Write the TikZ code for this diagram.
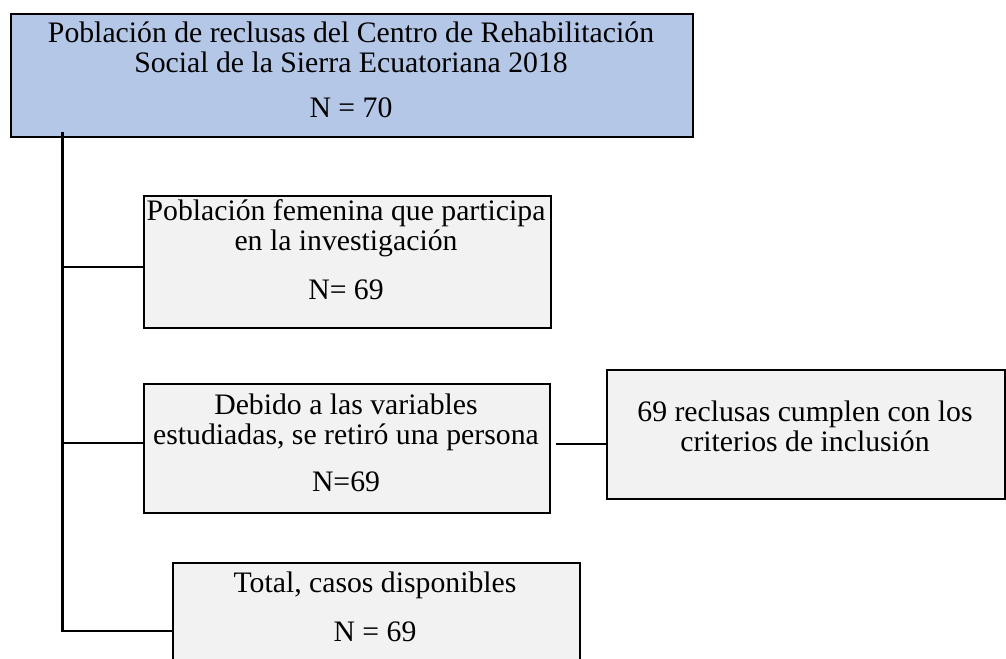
\documentclass[tikz,border=0pt]{standalone}
\usepackage{fontspec}
\setmainfont{Liberation Serif}
\usepackage{tikz}
\usetikzlibrary{calc}
\definecolor{azulcaja}{RGB}{180,199,231}
\definecolor{griscaja}{RGB}{242,242,242}
\tikzset{
  caja/.style={draw=black, line width=1.5pt, fill=griscaja, anchor=north west, inner sep=0pt},
  texto/.style={inner sep=0.75pt, align=center, font=\fontsize{22.3}{22.5}\selectfont},
  rama/.style={line width=1.5pt},
}
\begin{document}
\begin{tikzpicture}[x=0.75pt,y=0.75pt,yscale=-1,xscale=1]
\useasboundingbox (0,0) rectangle (1006,659);

%Shape: Rectangle [poblacion]
\node [caja, fill=azulcaja, minimum width=682*0.75pt, minimum height=123*0.75pt] (pob) at (10,13) {};
%Shape: Rectangle [femenina]
\node [caja, minimum width=407*0.75pt, minimum height=132*0.75pt] (fem) at (143,195) {};
%Shape: Rectangle [variables]
\node [caja, minimum width=406*0.75pt, minimum height=129*0.75pt] (var) at (143,383) {};
%Shape: Rectangle [criterios]
\node [caja, minimum width=398*0.75pt, minimum height=129*0.75pt] (crit) at (606,369) {};
%Shape: Rectangle [total]
\node [caja, minimum width=407*0.75pt, minimum height=110*0.75pt] (total) at (172,562) {};

%Straight Lines [tronco]
\coordinate (tronco) at (62,132);
\coordinate (r1) at (62,267);
\coordinate (r2) at (62,443);
\coordinate (r3) at (62,631);
\draw [line width=2.25pt] (tronco) -- (r3);
\draw [rama] (r1) -- (r1 -| fem.west);
\draw [rama] (r2) -- (r2 -| var.west);
\draw [rama] ($(r3)+(-1.1,0)$) -- (r3 -| total.west);
%Straight Lines [variables a criterios]
\coordinate (c1) at (556,444);
\draw [line width=1pt] (c1) -- (c1 -| crit.west);

% Text Node
\node [texto] (pobt1) at (351,47) {Población de reclusas del Centro de Rehabilitación\\Social de la Sierra Ecuatoriana 2018};
\node [texto] (pobn) at (351,108) {N = 70};
% Text Node
\node [texto] (femt1) at (346,228) {Población femenina que participa\\en la investigación};
\node [texto] (femn) at (346,290) {N= 69};
% Text Node
\node [texto] (vart1) at (346,422) {Debido a las variables\\estudiadas, se retiró una persona};
\node [texto] (varn) at (346,482) {N=69};
% Text Node
\node [texto] (critt1) at (805,426) {69 reclusas cumplen con los\\criterios de inclusión};
% Text Node
\node [texto] (totalt1) at (375,585) {Total, casos disponibles};
\node [texto] (totaln) at (375,632) {N = 69};

\end{tikzpicture}
\end{document}
